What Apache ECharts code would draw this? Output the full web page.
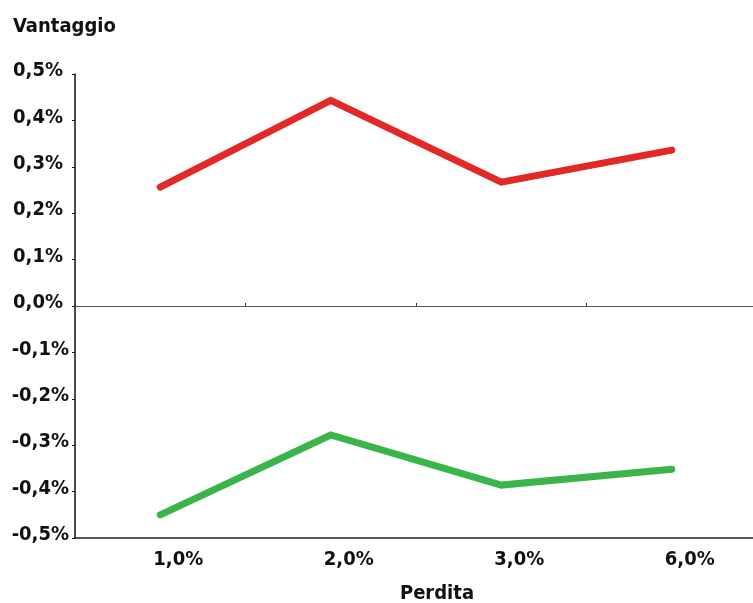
<!DOCTYPE html>
<html>
<head>
<meta charset="utf-8">
<script src="https://cdn.jsdelivr.net/npm/echarts@6/dist/echarts.min.js"></script>
<style>
  html, body { margin: 0; padding: 0; background: #fff; }
  #chart { width: 753px; height: 603px; }
</style>
</head>
<body>
<div id="chart"></div>
<script>
// Loss thresholds on the x axis, advantage (in %) on the y axis
const categories = ['1,0%', '2,0%', '3,0%', '6,0%'];
const redValues = [0.256, 0.443, 0.267, 0.336];
const greenValues = [-0.450, -0.278, -0.386, -0.352];
const yMin = -0.5;
const yMax = 0.5;
const yStep = 0.1;

const FONT = '"DejaVu Sans Condensed", "DejaVu Sans", sans-serif';

function pct(v) {
  const r = Math.round(v * 10) / 10;
  const s = Math.abs(r).toFixed(1).replace('.', ',') + '%';
  return r < 0 ? '{n|-' + s + '}' : '{p|' + s + '}';
}

const labelStyle = { fontFamily: FONT, fontWeight: 'bold', fontSize: 20, color: '#111' };

const chart = echarts.init(document.getElementById('chart'), null, { renderer: 'canvas' });
chart.setOption({
  animation: false,
  backgroundColor: '#fff',
  title: {
    text: 'Vantaggio',
    left: 8,
    top: 12,
    textStyle: Object.assign({}, labelStyle)
  },
  // plot area runs slightly past the right edge of the canvas
  grid: { left: 75, width: 682, top: 74, height: 464, outerBoundsMode: 'none', containLabel: false },
  xAxis: [
    {
      type: 'category',
      data: categories,
      position: 'bottom',
      boundaryGap: true,
      axisLine: { onZero: false, lineStyle: { color: '#222', width: 1.5 } },
      axisTick: { show: false },
      axisLabel: Object.assign({ margin: 12, padding: [0, 0, 0, 36] }, labelStyle),
      name: 'Perdita',
      nameLocation: 'middle',
      nameGap: 46,
      nameTextStyle: Object.assign({ padding: [0, 0, 0, 42] }, labelStyle),
      splitLine: { show: false }
    },
    {
      type: 'category',
      data: categories,
      position: 'bottom',
      boundaryGap: true,
      axisLine: { onZero: true, lineStyle: { color: '#555', width: 1.2 } },
      axisTick: { show: true, inside: true, length: 3, lineStyle: { color: '#333' } },
      axisLabel: { show: false },
      splitLine: { show: false }
    }
  ],
  yAxis: {
    type: 'value',
    min: yMin,
    max: yMax,
    interval: yStep,
    axisLine: { show: true, lineStyle: { color: '#111', width: 1.5 } },
    axisTick: { show: true, length: 3, lineStyle: { color: '#111' } },
    axisLabel: {
      margin: 6,
      formatter: pct,
      rich: {
        p: Object.assign({ padding: [0, 6, 6, 0] }, labelStyle),
        n: Object.assign({ padding: [0, 0, 6, 0] }, labelStyle)
      }
    },
    splitLine: { show: false }
  },
  series: [
    {
      type: 'line',
      data: redValues,
      xAxisIndex: 0,
      showSymbol: false,
      lineStyle: { color: '#e32926', width: 7, cap: 'round', join: 'miter' },
      itemStyle: { color: '#e32926' }
    },
    {
      type: 'line',
      data: greenValues,
      xAxisIndex: 0,
      showSymbol: false,
      lineStyle: { color: '#39b54a', width: 7, cap: 'round', join: 'miter' },
      itemStyle: { color: '#39b54a' }
    }
  ]
});
</script>
</body>
</html>
